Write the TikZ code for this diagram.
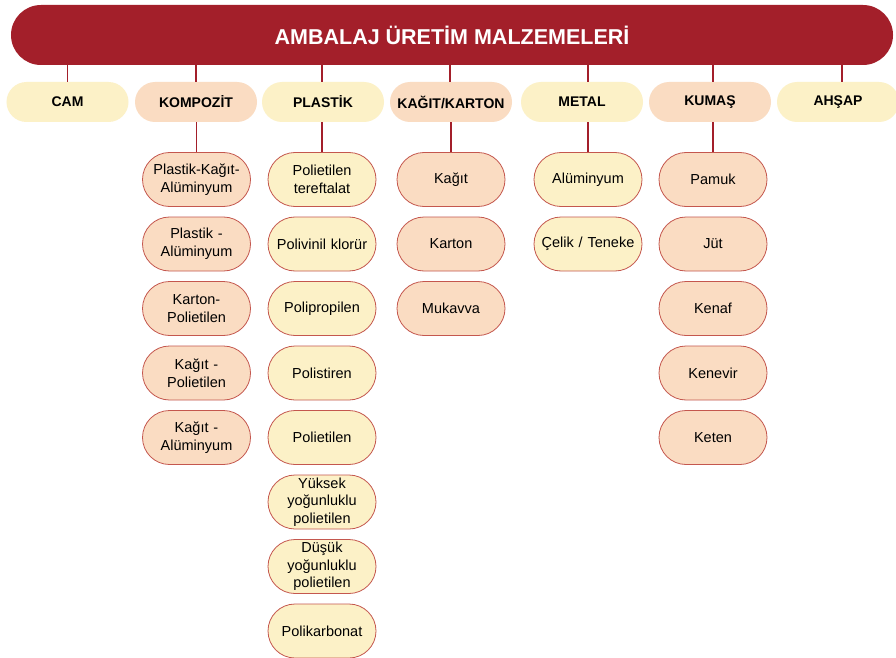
\documentclass[tikz,border=0pt]{standalone}
\usepackage{fontspec}
\setmainfont{Liberation Sans}
\definecolor{barred}{HTML}{A31F2A}
\definecolor{cream}{HTML}{FCF1C7}
\definecolor{peach}{HTML}{FADCC2}
\definecolor{edge}{HTML}{C4574E}
\begin{document}
\begin{tikzpicture}[x=1bp,y=-1bp,
  titlebox/.style={rectangle, rounded corners=30bp, fill=barred, minimum width=882bp, minimum height=60bp, inner sep=0, text=white, font=\bfseries\fontsize{21.5bp}{25bp}\selectfont},
  catbox/.style={rectangle, rounded corners=20bp, minimum width=122bp, minimum height=40bp, inner sep=0, font=\bfseries\fontsize{14bp}{17bp}\selectfont},
  childbox/.style={rectangle, rounded corners=27bp, draw=edge, line width=0.8bp, minimum width=108bp, minimum height=54bp, inner sep=0, align=center, text width=104bp, font=\fontsize{14.5bp}{17.5bp}\selectfont},
  ycat/.style={catbox, fill=cream},
  pcat/.style={catbox, fill=peach},
  ychild/.style={childbox, fill=cream},
  pchild/.style={childbox, fill=peach},
  link/.style={draw=barred, line width=1.6bp}
]
\useasboundingbox (0,0) rectangle (896,658);
\fill[white] (0,0) rectangle (896,658);

\node[titlebox] (title) at (452,35) {AMBALAJ ÜRETİM MALZEMELERİ};

\node[ycat] (cam) at (67.5,102) {CAM};
\node[pcat] (kom) at (196,102) {KOMPOZİT};
\node[ycat] (pla) at (323,102) {PLASTİK};
\node[pcat] (kag) at (451,102) {KAĞIT/KARTON};
\node[ycat] (met) at (582,102) {METAL};
\node[pcat] (kum) at (710,102) {KUMAŞ};
\node[ycat] (ahs) at (838,102) {AHŞAP};

\foreach \n/\x in {cam/67.5,kom/196,pla/322,kag/450,met/588,kum/713,ahs/842}{
  \coordinate (t\n) at (\x,65);
  \coordinate (b\n) at (\x,82);
  \draw[link] (t\n) -- (b\n);
}

% KOMPOZIT
\node[pchild] (kp1) at (196.5,179.5) {Plastik-Kağıt-\\Alüminyum};
\node[pchild] (kp2) at (196.5,244) {Plastik -\\Alüminyum};
\node[pchild] (kp3) at (196.5,308.5) {Karton-\\Polietilen};
\node[pchild] (kp4) at (196.5,373) {Kağıt -\\Polietilen};
\node[pchild] (kp5) at (196.5,437.5) {Kağıt -\\Alüminyum};

% PLASTIK
\node[ychild] (pl1) at (322,179.5) {Polietilen\\tereftalat};
\node[ychild] (pl2) at (322,244) {Polivinil klorür};
\node[ychild] (pl3) at (322,308.5) {Polipropilen};
\node[ychild] (pl4) at (322,373) {Polistiren};
\node[ychild] (pl5) at (322,437.5) {Polietilen};
\node[ychild] (pl6) at (322,502) {Yüksek\\yoğunluklu\\polietilen};
\node[ychild] (pl7) at (322,566.5) {Düşük\\yoğunluklu\\polietilen};
\node[ychild] (pl8) at (322,631) {Polikarbonat};

% KAGIT
\node[pchild] (kg1) at (451,179.5) {Kağıt};
\node[pchild] (kg2) at (451,244) {Karton};
\node[pchild] (kg3) at (451,308.5) {Mukavva};

% METAL
\node[ychild] (mt1) at (588,179.5) {Alüminyum};
\node[ychild] (mt2) at (588,244) {Çelik / Teneke};

% KUMAS
\node[pchild] (km1) at (713,179.5) {Pamuk};
\node[pchild] (km2) at (713,244) {Jüt};
\node[pchild] (km3) at (713,308.5) {Kenaf};
\node[pchild] (km4) at (713,373) {Kenevir};
\node[pchild] (km5) at (713,437.5) {Keten};

\foreach \c/\k in {kom/kp1,pla/pl1,kag/kg1,met/mt1,kum/km1}{
  \draw[link] (\c.south -| \k.north) -- (\k.north);
}
\end{tikzpicture}
\end{document}
